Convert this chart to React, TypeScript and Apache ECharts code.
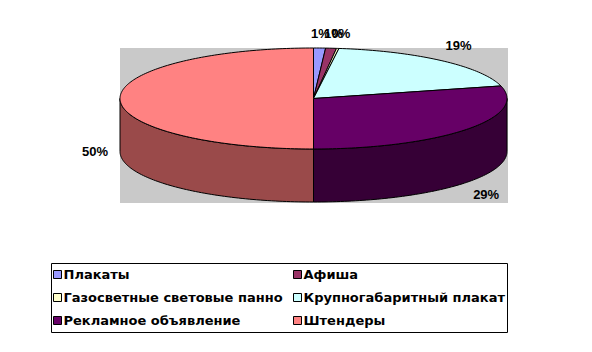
import React, { useEffect, useRef } from "react";
import * as echarts from "echarts";

const categories = [
  "Плакаты",
  "Афиша",
  "Газосветные световые панно",
  "Крупногабаритный плакат",
  "Рекламное объявление",
  "Штендеры",
];
const values = [1.0, 0.9, 0.2, 18.9, 29.0, 50.0];
const topColors = ["#9999FF", "#993366", "#FFFFCC", "#CCFFFF", "#660066", "#FF8282"];
const sideColors = ["#5C5C99", "#5C1F3D", "#99997A", "#7A9999", "#360036", "#9A4A4A"];
const legendLeft = ["Плакаты", "Газосветные световые панно", "Рекламное объявление"];
const legendRight = ["Афиша", "Крупногабаритный плакат", "Штендеры"];

const CX = 313.5, CY = 98.5, RX = 193.5, RY = 50.5, DEPTH = 53;
const FONT = "bold 13px 'Liberation Sans', Arial, sans-serif";

function pt(t: number, dy: number): number[] {
  return [CX + RX * Math.sin(t), CY - RY * Math.cos(t) + dy];
}
function arc(a: number, b: number, dy: number): number[][] {
  const n = Math.max(2, Math.ceil(Math.abs(b - a) / 0.02));
  const out: number[][] = [];
  for (let k = 0; k <= n; k++) out.push(pt(a + ((b - a) * k) / n, dy));
  return out;
}

export default function App() {
  const ref = useRef<HTMLDivElement>(null);
  useEffect(() => {
    document.body.style.margin = "0";
    const chart = echarts.init(ref.current!, null, { renderer: "svg" });
    const total = values.reduce((a, b) => a + b, 0);
    let acc = 0;
    const series = categories.map((name, i) => {
      const s = acc / total;
      acc += values[i];
      const e = acc / total;
      return {
        type: "custom",
        name,
        coordinateSystem: "none",
        silent: true,
        itemStyle: { color: topColors[i] },
        data: [[s, e, (values[i] / total) * 100]],
        renderItem: (params: any, api: any) => {
          const a = api.value(0) * Math.PI * 2;
          const b = api.value(1) * Math.PI * 2;
          const pct = api.value(2);
          const children: any[] = [];
          const sa = Math.max(a, Math.PI / 2);
          const sb = Math.min(b, (Math.PI * 3) / 2);
          if (sb > sa) {
            const pts = arc(sa, sb, 0).concat(arc(sb, sa, DEPTH));
            children.push({
              type: "polygon",
              shape: { points: pts },
              style: { fill: sideColors[i], stroke: "#000", lineWidth: 1 },
            });
          }
          if (b > a) {
            const top = [[CX, CY]].concat(arc(a, b, 0));
            children.push({
              type: "polygon",
              shape: { points: top },
              style: { fill: topColors[i], stroke: "#000", lineWidth: 1 },
            });
          }
          const m = (a + b) / 2;
          const c = Math.cos(m);
          const off = Math.min(15, 20 * Math.abs(c));
          const lx = CX + (RX + 25) * Math.sin(m);
          const ly = c > 0 ? CY - RY * c - off : CY + DEPTH - RY * c + off;
          children.push({
            type: "text",
            x: lx,
            y: ly,
            z2: 100,
            style: {
              text: Math.round(pct) + "%",
              fill: "#000",
              font: FONT,
              align: "center",
              verticalAlign: "middle",
            },
          });
          return { type: "group", children };
        },
      };
    });
    const legendCommon = {
      orient: "vertical",
      top: 267,
      padding: 0,
      icon: "rect",
      itemWidth: 8,
      itemHeight: 8,
      itemGap: 8,
      selectedMode: false,
      itemStyle: { borderColor: "#000", borderWidth: 1 },
      textStyle: {
        fontFamily: "'DejaVu Sans', sans-serif",
        fontWeight: "bold",
        fontSize: 13,
        lineHeight: 15,
        color: "#000",
        padding: [0, 0, 0, -3],
      },
    };
    chart.setOption({
      animation: false,
      graphic: [
        {
          type: "rect",
          z: -10,
          silent: true,
          shape: { x: 120, y: 48, width: 388, height: 155 },
          style: { fill: "#C9C9C9" },
        },
        {
          type: "rect",
          z: -10,
          silent: true,
          shape: { x: 51.5, y: 263.5, width: 456, height: 69 },
          style: { fill: "#fff", stroke: "#000", lineWidth: 1 },
        },
      ],
      legend: [
        { ...legendCommon, left: 53, data: legendLeft },
        { ...legendCommon, left: 293, data: legendRight },
      ],
      series,
    });
    return () => chart.dispose();
  }, []);
  return <div ref={ref} style={{ width: 592, height: 352 }} />;
}
